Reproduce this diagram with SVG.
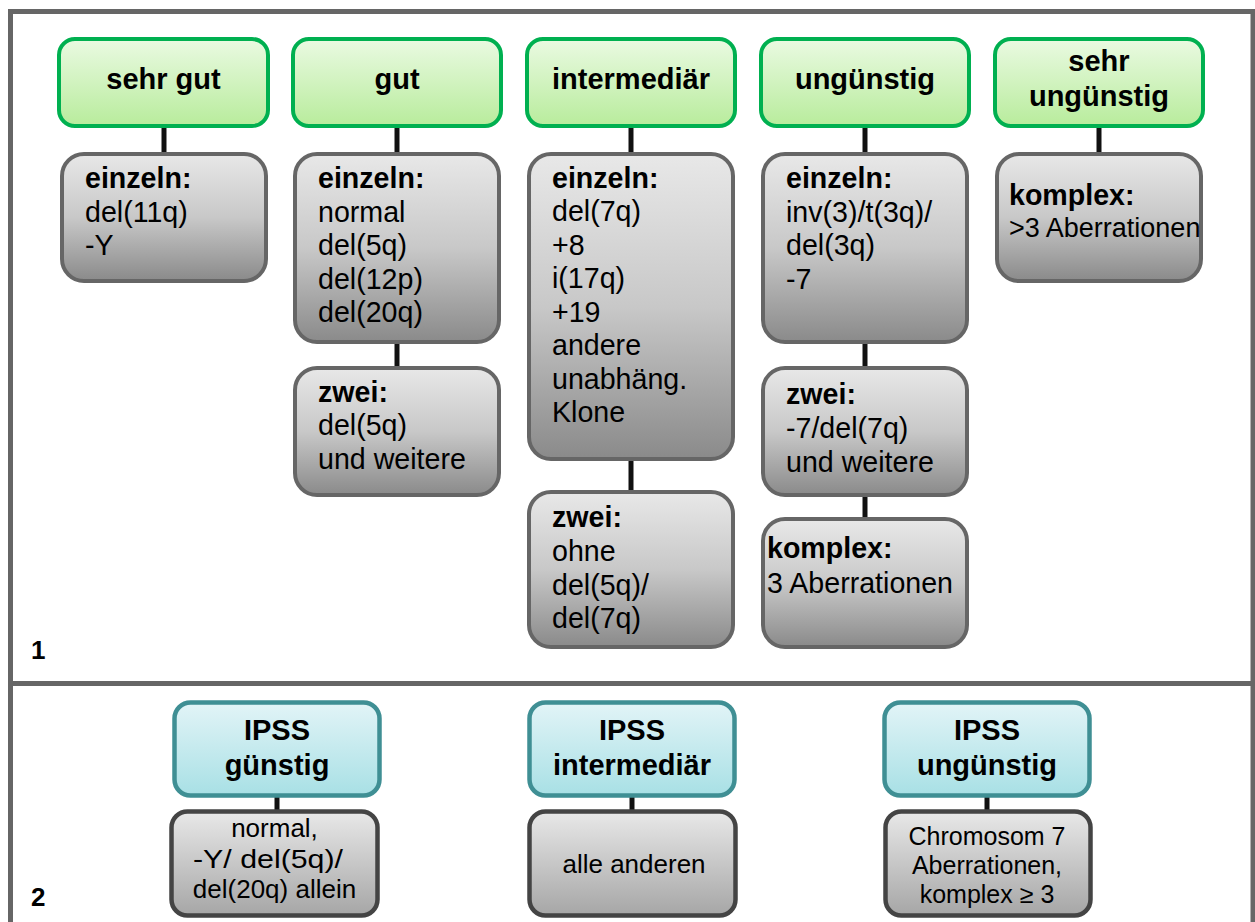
<svg xmlns="http://www.w3.org/2000/svg" width="1255" height="922" viewBox="0 0 1255 922">
<defs>
<linearGradient id="gGreen" x1="0" y1="0" x2="0" y2="1"><stop offset="0" stop-color="#eafae2"/><stop offset="1" stop-color="#b8ec9c"/></linearGradient>
<linearGradient id="gGray" x1="0" y1="0" x2="0" y2="1"><stop offset="0" stop-color="#e8e8e8"/><stop offset="0.5" stop-color="#c8c8c8"/><stop offset="1" stop-color="#8a8a8a"/></linearGradient>
<linearGradient id="gTeal" x1="0" y1="0" x2="0" y2="1"><stop offset="0" stop-color="#e2f4f7"/><stop offset="1" stop-color="#a8e0e5"/></linearGradient>
<linearGradient id="gGray2" x1="0" y1="0" x2="0" y2="1"><stop offset="0" stop-color="#e8e8e8"/><stop offset="1" stop-color="#a6a6a6"/></linearGradient>
<style>
.frame{fill:none;stroke:#666;stroke-width:5}
.green{fill:url(#gGreen);stroke:#00b050;stroke-width:4}
.gray{fill:url(#gGray);stroke:#666;stroke-width:4}
.teal{fill:url(#gTeal);stroke:#3f8f94;stroke-width:4.5}
.gray2{fill:url(#gGray2);stroke:#444;stroke-width:4.5}
.conn line{stroke:#111;stroke-width:5}
text{font-family:"Liberation Sans",Arial,Helvetica,sans-serif;fill:#000}
.title{font-size:29px;font-weight:bold;text-anchor:middle}
.body{font-size:28.6px}
.small{font-size:27px}
.b{font-weight:bold}
.ctr{font-size:26px;text-anchor:middle}
.ctr25{font-size:25px;text-anchor:middle}
.num{font-size:26px;font-weight:bold}
</style>
</defs>
<rect width="1255" height="922" fill="#fff"/>
<g id="frame">
<path class="frame" d="M10.5,925 V11.5 H1253 V925"/>
<line class="frame" x1="10.5" y1="683.5" x2="1253" y2="683.5"/>
<text class="num" x="31" y="659">1</text>
<text class="num" x="31" y="906">2</text>
</g>
<g class="conn" id="connectors">
<line x1="164" y1="126" x2="164" y2="154"/>
<line x1="397" y1="126" x2="397" y2="154"/>
<line x1="631" y1="126" x2="631" y2="154"/>
<line x1="865" y1="126" x2="865" y2="154"/>
<line x1="1099" y1="126" x2="1099" y2="154"/>
<line x1="397" y1="342" x2="397" y2="368"/>
<line x1="631" y1="459" x2="631" y2="492"/>
<line x1="865" y1="342" x2="865" y2="368"/>
<line x1="865" y1="495" x2="865" y2="519"/>
<line x1="277" y1="795" x2="277" y2="812"/>
<line x1="632" y1="795" x2="632" y2="812"/>
<line x1="987" y1="795" x2="987" y2="812"/>
</g>
<g id="h-sehrgut"><rect class="green" x="59" y="39" width="209" height="87" rx="16"/><text class="title" x="163.5" y="89">sehr gut</text></g>
<g id="h-gut"><rect class="green" x="293" y="39" width="208" height="87" rx="16"/><text class="title" x="397" y="89">gut</text></g>
<g id="h-intermediaer"><rect class="green" x="527" y="39" width="208" height="87" rx="16"/><text class="title" x="631" y="89">intermediär</text></g>
<g id="h-unguenstig"><rect class="green" x="761" y="39" width="208" height="87" rx="16"/><text class="title" x="865" y="89">ungünstig</text></g>
<g id="h-sehrunguenstig"><rect class="green" x="995" y="39" width="208" height="87" rx="16"/><text class="title" x="1099" y="71">sehr</text><text class="title" x="1099" y="106">ungünstig</text></g>

<g id="n-sehrgut-einzeln"><rect class="gray" x="62" y="154" width="204" height="127" rx="22"/>
<text class="body"><tspan class="b" x="85" y="188">einzeln:</tspan><tspan x="85" y="221.5">del(11q)</tspan><tspan x="85" y="255">-Y</tspan></text></g>

<g id="n-gut-einzeln"><rect class="gray" x="295" y="154" width="204" height="188" rx="22"/>
<text class="body"><tspan class="b" x="318" y="188">einzeln:</tspan><tspan x="318" y="221.5">normal</tspan><tspan x="318" y="255">del(5q)</tspan><tspan x="318" y="288.5">del(12p)</tspan><tspan x="318" y="322">del(20q)</tspan></text></g>

<g id="n-gut-zwei"><rect class="gray" x="295" y="368" width="204" height="127" rx="22"/>
<text class="body"><tspan class="b" x="318" y="402">zwei:</tspan><tspan x="318" y="435">del(5q)</tspan><tspan x="318" y="468.5">und weitere</tspan></text></g>

<g id="n-int-einzeln"><rect class="gray" x="529" y="154" width="204" height="305" rx="22"/>
<text class="body"><tspan class="b" x="552" y="187.5">einzeln:</tspan><tspan x="552" y="221">del(7q)</tspan><tspan x="552" y="254.5">+8</tspan><tspan x="552" y="288">i(17q)</tspan><tspan x="552" y="321.5">+19</tspan><tspan x="552" y="355">andere</tspan><tspan x="552" y="388.5">unabhäng.</tspan><tspan x="552" y="422">Klone</tspan></text></g>

<g id="n-int-zwei"><rect class="gray" x="529" y="492" width="204" height="155" rx="22"/>
<text class="body"><tspan class="b" x="552" y="527">zwei:</tspan><tspan x="552" y="561">ohne</tspan><tspan x="552" y="594.5">del(5q)/</tspan><tspan x="552" y="628">del(7q)</tspan></text></g>

<g id="n-ung-einzeln"><rect class="gray" x="763" y="154" width="204" height="188" rx="22"/>
<text class="body"><tspan class="b" x="786" y="188">einzeln:</tspan><tspan x="786" y="221.5">inv(3)/t(3q)/</tspan><tspan x="786" y="255">del(3q)</tspan><tspan x="786" y="288.5">-7</tspan></text></g>

<g id="n-ung-zwei"><rect class="gray" x="763" y="368" width="204" height="127" rx="22"/>
<text class="body"><tspan class="b" x="786" y="404">zwei:</tspan><tspan x="786" y="438">-7/del(7q)</tspan><tspan x="786" y="471.5">und weitere</tspan></text></g>

<g id="n-ung-komplex"><rect class="gray" x="763" y="519" width="204" height="128" rx="22"/>
<text class="body"><tspan class="b" x="767" y="558">komplex:</tspan><tspan x="767" y="592.5">3 Aberrationen</tspan></text></g>

<g id="n-sehrung-komplex"><rect class="gray" x="997" y="154" width="204" height="127" rx="22"/>
<text class="body"><tspan class="b" x="1009" y="205">komplex:</tspan><tspan class="small" x="1009" y="237">&gt;3 Aberrationen</tspan></text></g>

<g id="h-ipss-guenstig"><rect class="teal" x="174.5" y="702.5" width="205" height="93" rx="16"/><text class="title" x="277" y="740">IPSS</text><text class="title" x="277" y="775">günstig</text></g>
<g id="h-ipss-intermediaer"><rect class="teal" x="529.5" y="702.5" width="205" height="93" rx="16"/><text class="title" x="632" y="740">IPSS</text><text class="title" x="632" y="775">intermediär</text></g>
<g id="h-ipss-unguenstig"><rect class="teal" x="884.5" y="702.5" width="205" height="93" rx="16"/><text class="title" x="987" y="740">IPSS</text><text class="title" x="987" y="775">ungünstig</text></g>

<g id="n-ipss-guenstig"><rect class="gray2" x="171.5" y="811.5" width="206" height="104" rx="16"/>
<text class="ctr"><tspan x="274.5" y="837">normal,</tspan><tspan x="268" y="868" textLength="150" lengthAdjust="spacingAndGlyphs">-Y/ del(5q)/</tspan><tspan x="274.5" y="898">del(20q) allein</tspan></text></g>
<g id="n-ipss-intermediaer"><rect class="gray2" x="529.5" y="811.5" width="206" height="104" rx="16"/>
<text class="ctr" x="634" y="873">alle anderen</text></g>
<g id="n-ipss-unguenstig"><rect class="gray2" x="885.5" y="811.5" width="205" height="104" rx="16"/>
<text class="ctr25"><tspan x="987" y="845">Chromosom 7</tspan><tspan x="987" y="874">Aberrationen,</tspan><tspan x="987" y="903">komplex ≥ 3</tspan></text></g>
</svg>
